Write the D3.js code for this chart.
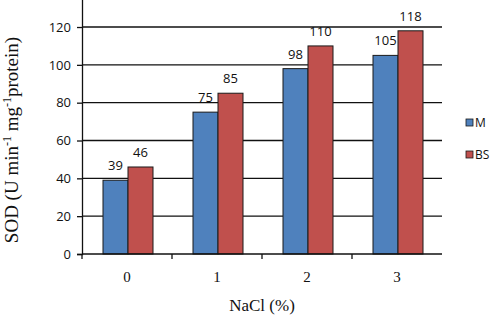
<!DOCTYPE html>
<html>
<head>
<meta charset="utf-8">
<script src="https://cdn.jsdelivr.net/npm/d3@7"></script>
<style>
  body { margin: 0; background: #fff; }
  svg { display: block; }
</style>
</head>
<body>
<div id="chart"></div>
<script>
var categories = ['0', '1', '2', '3'];
var seriesNames = ['M', 'BS'];
var valuesM = [39, 75, 98, 105];
var valuesBS = [46, 85, 110, 118];
var yTicks = [0, 20, 40, 60, 80, 100, 120];

var width = 490, height = 317;
var colors = { M: '#4f81bd', BS: '#c0504d' };

var svg = d3.select('#chart')
    .append('svg')
    .attr('width', width)
    .attr('height', height);

var x = d3.scaleBand()
    .domain(categories)
    .range([82, 442]);

var xInner = d3.scaleBand()
    .domain(seriesNames)
    .range([21, 71]);

var y = d3.scaleLinear()
    .domain([0, 140])
    .range([254, 254 - 7 * 37.83]);

// gridlines
svg.selectAll('.grid')
    .data(yTicks.slice(1))
    .enter().append('line')
    .attr('x1', 82)
    .attr('x2', 442)
    .attr('y1', function (d) { return y(d); })
    .attr('y2', function (d) { return y(d); })
    .attr('stroke', '#111')
    .attr('stroke-width', 1.3);

var rows = categories.map(function (c, i) {
    return { cat: c, M: valuesM[i], BS: valuesBS[i] };
});

var groups = svg.selectAll('.group')
    .data(rows)
    .enter().append('g')
    .attr('transform', function (d) { return 'translate(' + x(d.cat) + ',0)'; });

groups.selectAll('rect')
    .data(function (d) {
        return seriesNames.map(function (s) { return { key: s, value: d[s] }; });
    })
    .enter().append('rect')
    .attr('x', function (d) { return xInner(d.key); })
    .attr('y', function (d) { return y(d.value); })
    .attr('width', xInner.bandwidth())
    .attr('height', function (d) { return y(0) - y(d.value); })
    .attr('fill', function (d) { return colors[d.key]; })
    .attr('stroke', '#1a1a1a')
    .attr('stroke-width', 1);

groups.selectAll('.val')
    .data(function (d) {
        return seriesNames.map(function (s) { return { key: s, value: d[s] }; });
    })
    .enter().append('text')
    .attr('x', function (d) { return xInner(d.key) + xInner.bandwidth() / 2; })
    .attr('y', function (d) { return y(d.value) - 10; })
    .attr('text-anchor', 'middle')
    .style('font-family', 'Open Sans, sans-serif')
    .style('font-size', '13px')
    .attr('fill', '#111')
    .text(function (d) { return d.value; });

// y axis
var yAxis = d3.axisLeft(y)
    .tickValues(yTicks)
    .tickSize(5)
    .tickPadding(6);

var gy = svg.append('g')
    .attr('transform', 'translate(82,0)')
    .call(yAxis);
gy.select('.domain').attr('stroke', '#111').attr('stroke-width', 1.3);
gy.selectAll('.tick line').attr('stroke', '#111').attr('stroke-width', 1.3);
gy.selectAll('.tick text')
    .style('font-family', 'Open Sans, sans-serif')
    .style('font-size', '13px')
    .attr('fill', '#111');

// x axis
svg.append('line')
    .attr('x1', 82).attr('x2', 442)
    .attr('y1', y(0)).attr('y2', y(0))
    .attr('stroke', '#111').attr('stroke-width', 1.3);

var boundaries = [82].concat(categories.map(function (c) { return x(c) + x.bandwidth(); }));
svg.selectAll('.xtick')
    .data(boundaries.slice(0, 4))
    .enter().append('line')
    .attr('x1', function (d) { return d; })
    .attr('x2', function (d) { return d; })
    .attr('y1', y(0))
    .attr('y2', y(0) + 5)
    .attr('stroke', '#111').attr('stroke-width', 1.3);

svg.selectAll('.xlab')
    .data(categories)
    .enter().append('text')
    .attr('x', function (d) { return x(d) + x.bandwidth() / 2; })
    .attr('y', 282)
    .attr('text-anchor', 'middle')
    .style('font-family', 'Liberation Serif, serif')
    .style('font-size', '15px')
    .attr('fill', '#111')
    .text(function (d) { return d; });

svg.append('text')
    .attr('x', 262)
    .attr('y', 311)
    .attr('text-anchor', 'middle')
    .style('font-family', 'Liberation Serif, serif')
    .style('font-size', '17px')
    .attr('fill', '#111')
    .text('NaCl (%)');

// y title
var yt = svg.append('text')
    .attr('transform', 'translate(18,140) rotate(-90)')
    .attr('text-anchor', 'middle')
    .style('font-family', 'Liberation Serif, serif')
    .style('font-size', '19px')
    .attr('fill', '#111');
yt.append('tspan').text('SOD (U min');
yt.append('tspan').attr('dy', -7).style('font-size', '12px').text('-1');
yt.append('tspan').attr('dy', 7).text(' mg');
yt.append('tspan').attr('dy', -7).style('font-size', '12px').text('-1');
yt.append('tspan').attr('dy', 7).text('protein)');

// legend
var legend = svg.selectAll('.legend')
    .data(seriesNames)
    .enter().append('g')
    .attr('transform', function (d, i) { return 'translate(466,' + (119 + i * 32) + ')'; });

legend.append('rect')
    .attr('width', 7)
    .attr('height', 7)
    .attr('fill', function (d) { return colors[d]; })
    .attr('stroke', '#1a1a1a')
    .attr('stroke-width', 0.8);

legend.append('text')
    .attr('x', 9)
    .attr('y', 8)
    .style('font-family', 'Open Sans, sans-serif')
    .style('font-size', '12px')
    .attr('fill', '#111')
    .text(function (d) { return d; });
</script>
</body>
</html>
